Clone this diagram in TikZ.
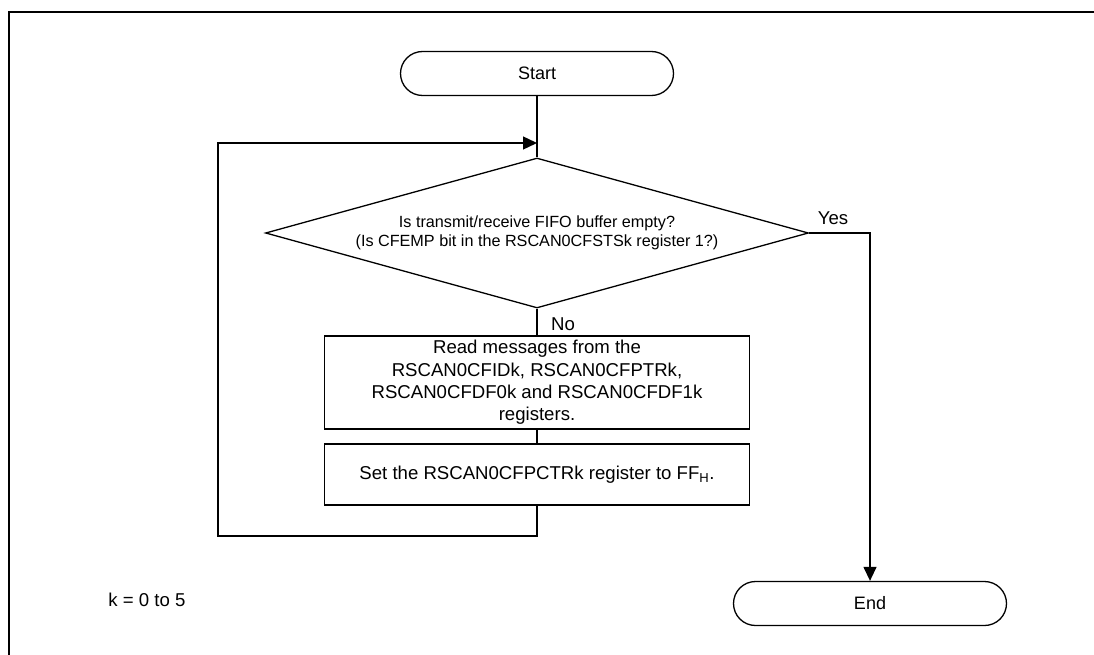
\documentclass[tikz,border=0pt]{standalone}
\usepackage{fontspec}
\setmainfont{Liberation Sans}
\usetikzlibrary{shapes.geometric,arrows.meta}
\begin{document}
\begin{tikzpicture}[x=1pt,y=-1pt,
  line width=1.3pt,
  term/.style={draw,rectangle,rounded corners=22pt,minimum width=273pt,minimum height=44pt,inner sep=0pt,font=\fontsize{18}{21}\selectfont},
  decision/.style={draw,diamond,minimum width=543pt,minimum height=150pt,inner sep=0pt,aspect=3.62,align=center,font=\fontsize{16.2}{19.5}\selectfont},
  proc/.style={draw,rectangle,minimum width=425pt,inner sep=0pt,align=center,font=\fontsize{18.6}{22.3}\selectfont},
  lbl/.style={font=\fontsize{18.6}{21}\selectfont,inner sep=0pt},
  arr/.style={-{Triangle[length=14pt,width=13pt]}}
]
\useasboundingbox (0,0) rectangle (1094,655);
\draw[line width=2.6pt] (9,655) -- (9,12) -- (1094,12);

\node[term] (start) at (537,73.5) {Start};
\node[decision] (dec) at (537,233) {Is transmit/receive FIFO buffer empty?\\(Is CFEMP bit in the RSCAN0CFSTSk register 1?)};
\node[proc,minimum height=93pt] (read) at (537,382.5) {Read messages from the\\RSCAN0CFIDk, RSCAN0CFPTRk,\\RSCAN0CFDF0k and RSCAN0CFDF1k\\registers.};
\node[proc,minimum height=61pt] (set) at (537,474.5) {Set the RSCAN0CFPCTRk register to FF\textsubscript{H}.};
\node[term] (end) at (870,603.5) {End};
\node[lbl] (yes) at (833,218) {Yes};
\node[lbl] (no) at (563,324) {No};
\node[font=\fontsize{18.6}{22}\selectfont,inner sep=0pt] (note) at (147,600) {k = 0 to 5};

\coordinate (merge) at (537,143);
\coordinate (loopbl) at (218,536);

\draw (start.south) -- (dec.north);
\draw (dec.south) -- (read.north);
\draw (read.south) -- (set.north);
\draw[arr] (set.south) |- (loopbl) |- (merge);
\draw[arr] (dec.east) -| (end.north);
\end{tikzpicture}
\end{document}
